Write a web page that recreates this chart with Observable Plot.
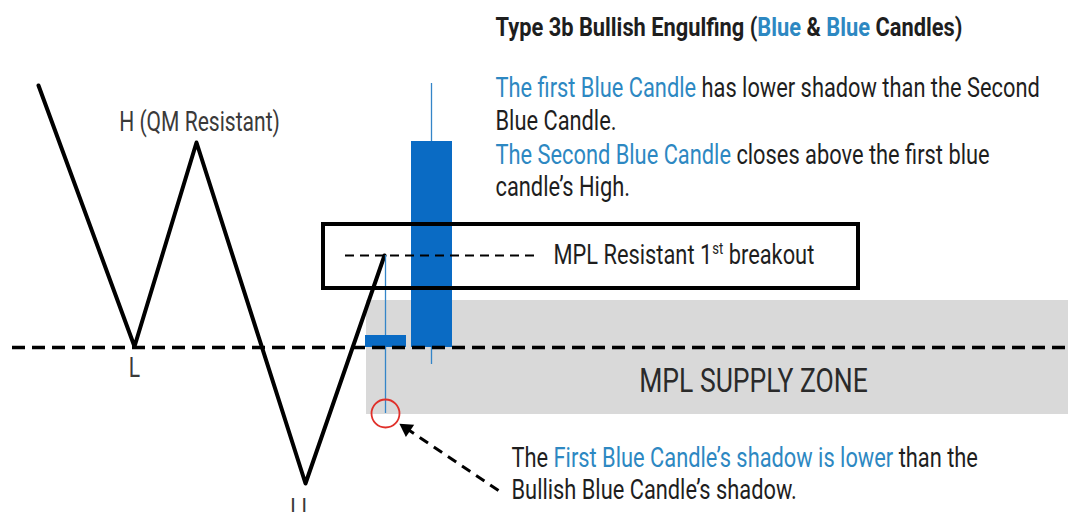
<!DOCTYPE html>
<html><head><meta charset="utf-8">
<script src="https://cdn.jsdelivr.net/npm/d3@7"></script>
<script src="https://cdn.jsdelivr.net/npm/@observablehq/plot@0.6"></script>
<style>
html,body{margin:0;padding:0;background:#fff;}
#chart svg{display:block;}
</style></head><body><div id="chart"></div>
<script>
const FONT = 'Roboto,"Noto Sans",sans-serif';
const INK = "#1e1e1e", GREY_INK = "#3a3a3a", BLUE_TXT = "#2d88c2";
const CANDLE = "#0a6bc4", WICK = "#3485c8";

// swing structure (time, price)
const swingTime  = [38, 134, 196, 305, 384];
const swingPrice = [427, 166, 370, 29, 257];

// candles
const candleTime  = [385, 431];
const candleOpen  = [165, 165];
const candleClose = [177, 371];
const candleHigh  = [257, 429];
const candleLow   = [99, 148];

// levels & zones
const mplLevel = 165;
const levelSpan = [12, 1068];
const breakoutLevel = 257;
const breakoutSpan = [345, 540];
const zoneTime = [366, 1068];
const zonePrice = [98, 212];
const boxTime = [323, 858];
const boxPrice = [224, 288];

const swing = swingTime.map((t, i) => ({t, p: swingPrice[i]}));
const candles = candleTime.map((t, i) => ({t, o: candleOpen[i], c: candleClose[i], h: candleHigh[i], l: candleLow[i]}));

const rich = new Map();
function line(t, p, parts) {
  const text = parts.map(d => d[0]).join("");
  rich.set(text, parts);
  return {t, p, text};
}
const titleLines = [
  line(495, 485, [["Type 3b Bullish Engulfing (", 0], ["Blue", 1], [" & ", 0], ["Blue", 1], [" Candles)", 0]])
];
const noteLines = [
  line(495, 424, [["The first Blue Candle", 1], [" has lower shadow than the Second", 0]]),
  line(495, 391, [["Blue Candle.", 0]]),
  line(495, 357, [["The Second Blue Candle", 1], [" closes above the first blue", 0]]),
  line(495, 325, [["candle\u2019s High.", 0]]),
  line(553, 257, [["MPL Resistant 1", 0], ["st", 2], [" breakout", 0]]),
  line(511, 54, [["The ", 0], ["First Blue Candle\u2019s shadow is lower", 1], [" than the", 0]]),
  line(511, 22, [["Bullish Blue Candle\u2019s shadow.", 0]])
];
const swingText = [
  {t: 199, p: 390, text: "H (QM Resistant)"},
  {t: 134, p: 144, text: "L"},
  {t: 301, p: 3, text: "LL"}
];
const zoneLabel = [{t: 753, p: 131, text: "MPL SUPPLY ZONE"}];
const circle = [{t: 385, p: 99}];
const arrowFrom = {t: 498, p: 22}, arrowTo = {t: 406, p: 84};

const plot = Plot.plot({
  width: 1068, height: 512, margin: 0,
  x: {domain: [0, 1068], axis: null},
  y: {domain: [0, 512], axis: null},
  style: {fontFamily: FONT, background: "#fff"},
  marks: [
    Plot.rect([{}], {x1: zoneTime[0], x2: zoneTime[1], y1: zonePrice[0], y2: zonePrice[1], fill: "#d9d9d9"}),
    Plot.line(swing, {x: "t", y: "p", stroke: "#000", strokeWidth: 4, strokeLinejoin: "round", strokeLinecap: "round"}),
    Plot.ruleX(candles, {x: "t", y1: "l", y2: "h", stroke: WICK, strokeWidth: 1.3}),
    Plot.ruleX(candles, {x: "t", y1: "o", y2: "c", stroke: CANDLE, strokeWidth: 41}),
    Plot.ruleY([mplLevel], {x1: levelSpan[0], x2: levelSpan[1], stroke: "#000", strokeWidth: 3.5, strokeDasharray: "13,7"}),
    Plot.ruleY([breakoutLevel], {x1: breakoutSpan[0], x2: breakoutSpan[1], stroke: "#000", strokeWidth: 2, strokeDasharray: "9,6"}),
    Plot.rect([{}], {x1: boxTime[0], x2: boxTime[1], y1: boxPrice[0], y2: boxPrice[1], fill: "none", stroke: "#000", strokeWidth: 4}),
    Plot.dot(circle, {x: "t", y: "p", r: 14, stroke: "#e0302a", strokeWidth: 1.8, fill: "none"}),
    Plot.link([{}], {x1: arrowFrom.t, y1: arrowFrom.p, x2: arrowTo.t, y2: arrowTo.p, stroke: "#000", strokeWidth: 3, strokeDasharray: "10,7"}),
    Plot.dot([arrowTo], {x: "t", y: "p", symbol: "triangle", r: 5.5, fill: "#000", rotate: -56}),
    Plot.text(titleLines, {x: "t", y: "p", text: "text", textAnchor: "start", fontSize: 26, fontWeight: 700, fill: INK}),
    Plot.text(noteLines, {x: "t", y: "p", text: "text", textAnchor: "start", fontSize: 28, fill: INK}),
    Plot.text(swingText, {x: "t", y: "p", text: "text", fontSize: 27, fill: GREY_INK}),
    Plot.text(zoneLabel, {x: "t", y: "p", text: "text", fontSize: 34, fill: "#2a2a2a"})
  ]
});

const titleText = titleLines[0].text;
plot.querySelectorAll("text").forEach(t => {
  const parts = rich.get(t.textContent);
  if (!parts) return;
  if (t.textContent === titleText) t.dataset.sx = "0.84";
  t.textContent = "";
  for (const [s, kind] of parts) {
    const ts = document.createElementNS("http://www.w3.org/2000/svg", "tspan");
    ts.textContent = s;
    if (kind === 1) ts.setAttribute("fill", BLUE_TXT);
    if (kind === 2) { ts.setAttribute("baseline-shift", "super"); ts.setAttribute("font-size", "0.6em"); }
    t.appendChild(ts);
  }
});
document.getElementById("chart").appendChild(plot);

// emulate the condensed typeface of the original: narrow every label horizontally about its anchor
const SX = 0.78;
plot.querySelectorAll("text").forEach(t => {
  let tr = t.getAttribute("transform") || "";
  const x = t.getAttribute("x");
  if (x != null && !/em$/.test(x)) {
    tr += ` translate(${x},0)`;
    t.removeAttribute("x");
  }
  t.setAttribute("transform", `${tr} scale(${t.dataset.sx || SX},1)`);
});
</script></body></html>
